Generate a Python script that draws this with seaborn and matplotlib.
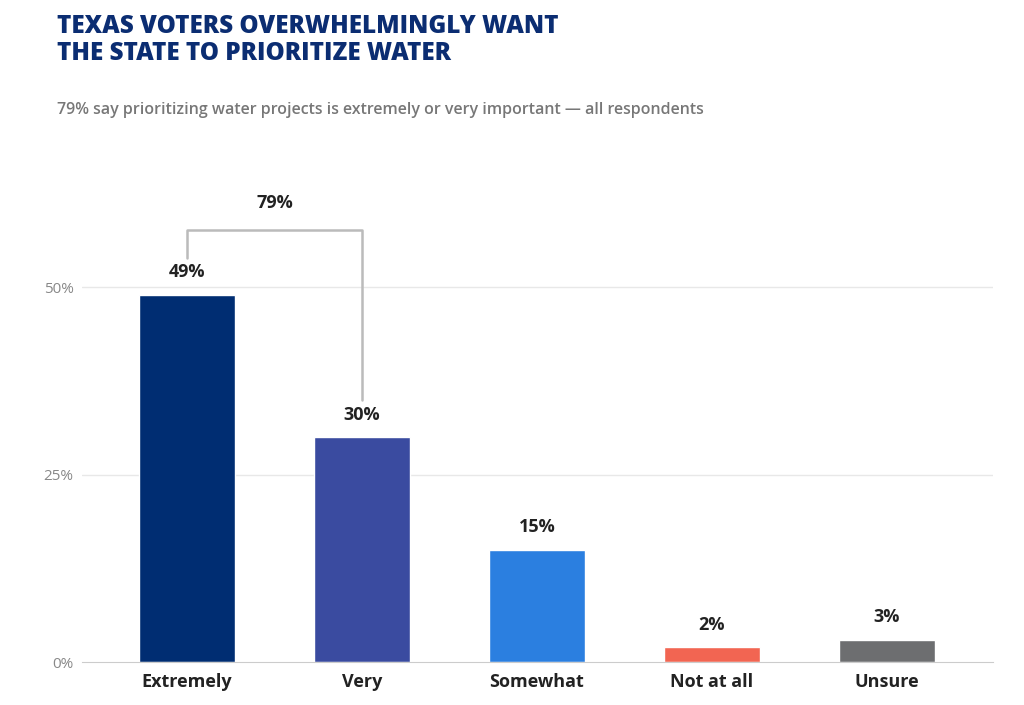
import matplotlib
matplotlib.use("Agg")
import matplotlib.pyplot as plt
import seaborn as sns
import pandas as pd

categories = ["Extremely", "Very", "Somewhat", "Not at all", "Unsure"]
values = [49, 30, 15, 2, 3]
colors = ["#002D72", "#3A4BA0", "#2B7FE0", "#F26552", "#6D6E70"]
yticks = [0, 25, 50]
combined_label = "79%"

sns.set_style("white")
plt.rcParams['font.family'] = ['Open Sans', 'DejaVu Sans']

fig = plt.figure(figsize=(10.24, 7.05), dpi=100)
ax = fig.add_axes([82/1024, 43/705, 911/1024, 462/705])
df = pd.DataFrame({"cat": categories, "val": values})
sns.barplot(data=df, x="cat", y="val", hue="cat", palette=colors, width=0.55,
            legend=False, ax=ax, saturation=1)
ax.set_xlim(-0.6, 4.606)
ax.set_ylim(0, 61.6)
ax.set_yticks(yticks)
ax.set_yticklabels([f"{t}%" for t in yticks], color="#888888", fontsize=11)
ax.tick_params(axis="y", length=0, pad=6)
ax.tick_params(axis="x", length=0, pad=8)
for lab in ax.get_xticklabels():
    lab.set_fontweight("bold"); lab.set_fontsize(13); lab.set_color("#222222")
ax.set_xlabel(""); ax.set_ylabel("")
for t in yticks[1:]:
    ax.axhline(t, color="#e8e8e8", lw=1, zorder=0)
for s in ["top", "right", "left"]:
    ax.spines[s].set_visible(False)
ax.spines["bottom"].set_color("#cccccc")

for i, v in enumerate(values):
    ax.text(i, v + 1.8, f"{v}%", ha="center", va="bottom", fontsize=13,
            fontweight="bold", color="#222222")

ax.plot([0, 0, 1, 1], [53.9, 57.6, 57.6, 34.9], color="#bbbbbb", lw=1.8,
        clip_on=False)
ax.text(0.5, 60.0, combined_label, ha="center", va="bottom", fontsize=13,
        fontweight="bold", color="#222222")

fig.text(57/1024, 1 - 14/705, "TEXAS VOTERS OVERWHELMINGLY WANT\nTHE STATE TO PRIORITIZE WATER",
         ha="left", va="top", fontsize=17.5, fontweight="heavy", color="#0B2D72",
         linespacing=1.1)
fig.text(57/1024, 1 - 110/705,
         "79% say prioritizing water projects is extremely or very important \u2014 all respondents",
         ha="left", va="center", fontsize=11.5, fontweight="semibold", color="#777777")

fig.savefig("out.png", dpi=100)
